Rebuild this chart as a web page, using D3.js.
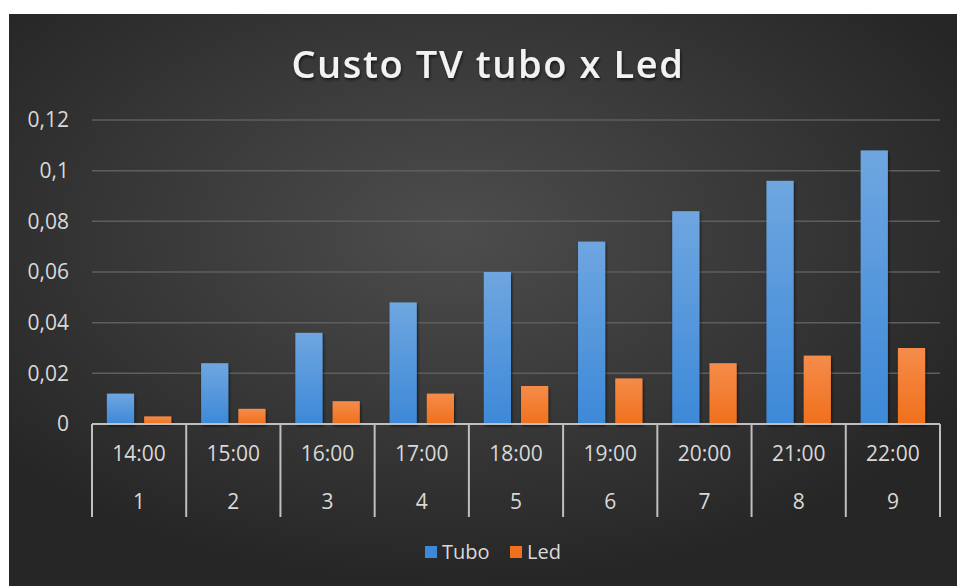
<!DOCTYPE html>
<html>
<head>
<meta charset="utf-8">
<script src="https://cdn.jsdelivr.net/npm/d3@7"></script>
<style>
  body { margin: 0; background: #fff; }
  text { font-family: "Open Sans", "Noto Sans", sans-serif; }
</style>
</head>
<body>
<div id="chart"></div>
<script>
const W = 957, H = 586;

var horas = ["14:00", "15:00", "16:00", "17:00", "18:00", "19:00", "20:00", "21:00", "22:00"];
var numeros = ["1", "2", "3", "4", "5", "6", "7", "8", "9"];
var tubo = [0.012, 0.024, 0.036, 0.048, 0.06, 0.072, 0.084, 0.096, 0.108];
var led = [0.003, 0.006, 0.009, 0.012, 0.015, 0.018, 0.024, 0.027, 0.03];
var yTicks = [0, 0.02, 0.04, 0.06, 0.08, 0.1, 0.12];
var series = [
  { name: "Tubo", values: tubo, c1: "#6fa6e0", c2: "#3d89d8" },
  { name: "Led", values: led, c1: "#f58c4a", c2: "#f0701c" }
];

const M = { left: 92, right: 940, top: 120, bottom: 424 };
const LBL = 21;

var svg = d3.select("#chart").append("svg")
  .attr("width", W)
  .attr("height", H);

var defs = svg.append("defs");
var bg = defs.append("radialGradient")
  .attr("id", "bg")
  .attr("cx", "47%").attr("cy", "38%").attr("r", "62%");
bg.append("stop").attr("offset", "0%").attr("stop-color", "#4d4d4d");
bg.append("stop").attr("offset", "100%").attr("stop-color", "#262626");

series.forEach((s, i) => {
  var g = defs.append("linearGradient")
    .attr("id", "g" + i)
    .attr("x1", 0).attr("y1", 0).attr("x2", 0).attr("y2", 1);
  g.append("stop").attr("offset", "0%").attr("stop-color", s.c1);
  g.append("stop").attr("offset", "100%").attr("stop-color", s.c2);
});

var shadow = defs.append("filter").attr("id", "shadow")
  .attr("x", "-20%").attr("y", "-20%").attr("width", "140%").attr("height", "140%");
shadow.append("feDropShadow")
  .attr("dx", 1).attr("dy", 2).attr("stdDeviation", 1.5)
  .attr("flood-color", "#000").attr("flood-opacity", 0.6);

svg.append("rect")
  .attr("x", 9).attr("y", 14)
  .attr("width", W - 9).attr("height", H - 14)
  .attr("fill", "url(#bg)");

svg.append("text")
  .text("Custo TV tubo x Led")
  .attr("x", 488).attr("y", 78)
  .attr("text-anchor", "middle")
  .attr("fill", "#f2f2f2")
  .attr("font-size", 38)
  .attr("font-weight", 600)
  .attr("letter-spacing", 1.6)
  .attr("filter", "url(#shadow)");

var x = d3.scaleBand()
  .domain(numeros)
  .range([M.left, M.right])
  .paddingInner(0)
  .paddingOuter(0);

var x1 = d3.scaleBand()
  .domain(series.map(s => s.name))
  .range([0, x.bandwidth()])
  .paddingInner(0.27)
  .paddingOuter(0.4);

var y = d3.scaleLinear()
  .domain([0, 0.12])
  .range([M.bottom, M.top]);

var fmt = d => String(d).replace(".", ",");

// gridlines
svg.append("g")
  .selectAll("line")
  .data(yTicks.filter(d => d > 0))
  .enter()
  .append("line")
  .attr("x1", M.left).attr("x2", M.right)
  .attr("y1", d => y(d)).attr("y2", d => y(d))
  .attr("stroke", "#5e5e5e")
  .attr("stroke-width", 1.5);

// y labels
svg.append("g")
  .selectAll("text")
  .data(yTicks)
  .enter()
  .append("text")
  .text(fmt)
  .attr("x", 69)
  .attr("y", d => y(d))
  .attr("dy", "0.35em")
  .attr("text-anchor", "end")
  .attr("fill", "#d9d9d9")
  .attr("font-size", LBL);

// bars
series.forEach((s, si) => {
  svg.append("g")
    .selectAll("rect")
    .data(s.values)
    .enter()
    .append("rect")
    .attr("x", (d, i) => x(numeros[i]) + x1(s.name))
    .attr("y", d => y(d))
    .attr("width", x1.bandwidth())
    .attr("height", d => y(0) - y(d))
    .attr("fill", "url(#g" + si + ")")
    .attr("filter", "url(#shadow)");
});

// category axis
var axis = svg.append("g").attr("stroke", "#bfbfbf").attr("stroke-width", 2);
axis.append("line")
  .attr("x1", M.left).attr("x2", M.right)
  .attr("y1", M.bottom).attr("y2", M.bottom);
axis.selectAll("line.sep")
  .data(numeros.concat(["end"]))
  .enter()
  .append("line")
  .attr("class", "sep")
  .attr("x1", (d, i) => i < numeros.length ? x(d) : M.right)
  .attr("x2", (d, i) => i < numeros.length ? x(d) : M.right)
  .attr("y1", M.bottom).attr("y2", 517);

svg.append("g")
  .selectAll("text")
  .data(horas)
  .enter()
  .append("text")
  .text(d => d)
  .attr("x", (d, i) => x(numeros[i]) + x.bandwidth() / 2)
  .attr("y", 454)
  .attr("dy", "0.35em")
  .attr("text-anchor", "middle")
  .attr("fill", "#d9d9d9")
  .attr("font-size", LBL);

svg.append("g")
  .selectAll("text")
  .data(numeros)
  .enter()
  .append("text")
  .text(d => d)
  .attr("x", d => x(d) + x.bandwidth() / 2)
  .attr("y", 502)
  .attr("dy", "0.35em")
  .attr("text-anchor", "middle")
  .attr("fill", "#d9d9d9")
  .attr("font-size", LBL);

// legend
var legX = [425, 510];
var leg = svg.append("g")
  .selectAll("g")
  .data(series)
  .enter()
  .append("g")
  .attr("transform", (d, i) => "translate(" + legX[i] + ",552)");
leg.append("rect")
  .attr("x", 0).attr("y", -6)
  .attr("width", 12).attr("height", 12)
  .attr("fill", d => d.c2);
leg.append("text")
  .text(d => d.name)
  .attr("x", 17)
  .attr("dy", "0.35em")
  .attr("fill", "#d9d9d9")
  .attr("font-size", 20);
</script>
</body>
</html>
